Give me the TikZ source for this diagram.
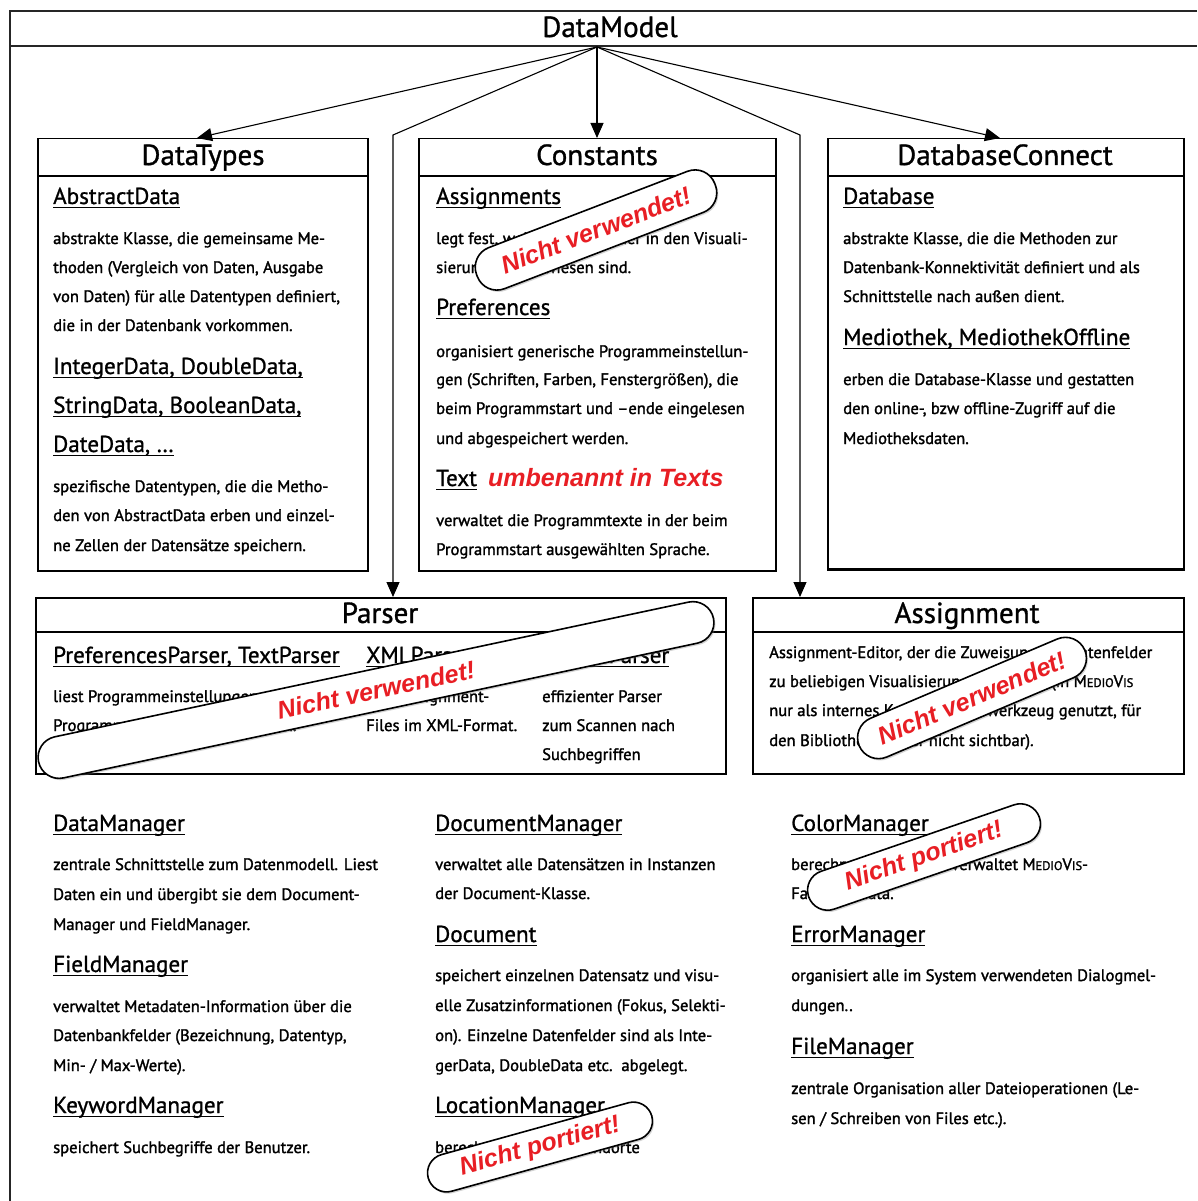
\documentclass[tikz,border=0pt]{standalone}
\usepackage{fontspec}
\setmainfont{PT Sans}
\newfontfamily\bodyfamily{PT Sans}[RawFeature={embolden=1.6}]
\newfontfamily\headfamily{PT Sans}[RawFeature={embolden=1.0}]
\newfontfamily\stampfamily{Liberation Sans}[BoldItalicFont={* Bold Italic}]
\usetikzlibrary{arrows.meta,shadows}

\definecolor{stampred}{RGB}{232,30,36}

% underlined heading: rule sits just below the baseline
\newcommand\ulhead[1]{\setbox0\hbox{#1}\rlap{\vrule height -2.6pt depth 3.9pt width \wd0}\box0}
% fake small capitals for the product name
\newcommand\smallcapsfake[1]{{\fontsize{12.4}{14}\selectfont #1}}
\newcommand\mediovis{M\smallcapsfake{EDIO}V\smallcapsfake{IS}}

\newcommand\bodyfont{\bodyfamily\fontsize{16.6}{19}\selectfont}
\newcommand\headfont{\headfamily\fontsize{23.1}{26}\selectfont}
\newcommand\titlefont{\headfamily\fontsize{29.1}{32}\selectfont}
\newcommand\redfont{\stampfamily\bfseries\itshape\fontsize{25}{28}\selectfont}

\begin{document}
\begin{tikzpicture}[x=1pt,y=-1pt,
  body/.style={anchor=base west, inner sep=0pt, font=\bodyfont},
  head/.style={anchor=base west, inner sep=0pt, font=\headfont},
  title/.style={anchor=base, inner sep=0pt, font=\titlefont},
  classbox/.style={draw, line width=1.5pt, anchor=north west, inner sep=0pt},
  band/.style={line width=1.5pt},
  frame/.style={line width=1.7pt, draw=black!85},
  link/.style={line width=1.1pt, -{Triangle[length=15pt,width=13pt]}},
  stamp/.style={draw, line width=1.6pt, fill=white, rounded corners=21pt,
    minimum height=42pt, inner sep=0pt, font=\redfont, text=stampred,
    drop shadow={shadow xshift=1.5pt, shadow yshift=-1.8pt, opacity=0.35}},
  redtext/.style={anchor=base west, inner sep=0pt, font=\redfont, text=stampred}]

\useasboundingbox[fill=white] (0,0) rectangle (1197,1201);

% ---------- outer DataModel frame ----------
\draw[frame] (1197,11) -- (10,11) -- (10,1201);
\draw[frame] (10,46) -- (1197,46);
\node[title] (datamodel) at (610,37) {DataModel};
\coordinate (dm) at (597,47);

% ---------- class boxes ----------
\node[classbox, minimum width=330pt, minimum height=432pt] (datatypes) at (37,138) {};
\node[classbox, minimum width=357pt, minimum height=432pt] (constants) at (418,138) {};
\node[classbox, minimum width=356pt, minimum height=430pt] (dbconnect) at (827,138) {};
\draw[line width=3pt] (dbconnect.south west) -- (dbconnect.south east);
\node[classbox, minimum width=690pt, minimum height=176pt] (parser) at (35,597) {};
\node[classbox, minimum width=431pt, minimum height=176pt] (assignment) at (752,597) {};

\draw[band] (37,176) -- (367,176);
\draw[band] (418,176) -- (775,176);
\draw[band] (827,176) -- (1183,176);
\draw[band] (35,632) -- (725,632);
\draw[band] (752,632) -- (1183,632);

\node[title] (t-datatypes) at (203,165) {DataTypes};
\node[title] (t-constants) at (597,165) {Constants};
\node[title] (t-dbconnect) at (1005,165) {DatabaseConnect};
\node[title] (t-parser) at (380,623) {Parser};
\node[title] (t-assignment) at (967,623) {Assignment};

% ---------- connectors from DataModel ----------
\coordinate (bendp) at (393,135);
\coordinate (benda) at (800,135);
\draw[link] (dm) -- (datatypes.north -| 197,0);
\draw[link] (dm) -- (constants.north -| dm);
\draw[link] (dm) -- (dbconnect.north -| 1000,0);
\draw[link] (dm) -- (bendp) -- (parser.north -| bendp);
\draw[link] (dm) -- (benda) -- (assignment.north -| benda);

% ---------- DataTypes ----------
\node[head] (h-abstract) at (53,204) {\ulhead{AbstractData}};
\node[body] (b-abstract1) at (53,244) {abstrakte Klasse, die gemeinsame Me-};
\node[body] (b-abstract2) at (53,273) {thoden (Vergleich von Daten, Ausgabe};
\node[body] (b-abstract3) at (53,302) {von Daten) für alle Datentypen definiert,};
\node[body] (b-abstract4) at (53,331) {die in der Datenbank vorkommen.};
\node[head] (h-types1) at (53,374) {\ulhead{IntegerData, DoubleData,}};
\node[head] (h-types2) at (53,413) {\ulhead{StringData, BooleanData,}};
\node[head] (h-types3) at (53,452) {\ulhead{DateData, \dots}};
\node[body] (b-types1) at (53,492) {spezifische Datentypen, die die Metho-};
\node[body] (b-types2) at (53,521) {den von AbstractData erben und einzel-};
\node[body] (b-types3) at (53,551) {ne Zellen der Datensätze speichern.};

% ---------- Constants ----------
\node[head] (h-assignments) at (436,204) {\ulhead{Assignments}};
\node[body] (b-assignments1) at (436,244) {legt fest, welche Datenfelder in den Visuali-};
\node[body] (b-assignments2) at (436,273) {sierungen zugewiesen sind.};
\node[head] (h-preferences) at (436,315) {\ulhead{Preferences}};
\node[body] (b-pref1) at (436,357) {organisiert generische Programmeinstellun-};
\node[body] (b-pref2) at (436,385) {gen (Schriften, Farben, Fenstergrößen), die};
\node[body] (b-pref3) at (436,414) {beim Programmstart und –ende eingelesen};
\node[body] (b-pref4) at (436,444) {und abgespeichert werden.};
\node[head] (h-text) at (436,486) {\ulhead{Text}};
\node[redtext] (r-text) at (488,486) {umbenannt in Texts};
\node[body] (b-text1) at (436,526) {verwaltet die Programmtexte in der beim};
\node[body] (b-text2) at (436,555) {Programmstart ausgewählten Sprache.};

% ---------- DatabaseConnect ----------
\node[head] (h-database) at (843,204) {\ulhead{Database}};
\node[body] (b-db1) at (843,244) {abstrakte Klasse, die die Methoden zur};
\node[body] (b-db2) at (843,273) {Datenbank-Konnektivität definiert und als};
\node[body] (b-db3) at (843,302) {Schnittstelle nach außen dient.};
\node[head] (h-mediothek) at (843,345) {\ulhead{Mediothek, MediothekOffline}};
\node[body] (b-med1) at (843,385) {erben die Database-Klasse und gestatten};
\node[body] (b-med2) at (843,414) {den online-, bzw offline-Zugriff auf die};
\node[body] (b-med3) at (843,444) {Mediotheksdaten.};

% ---------- Parser ----------
\node[head] (h-prefparser) at (53,663) {\ulhead{PreferencesParser, TextParser}};
\node[head] (h-xmlparser) at (366,663) {\ulhead{XMLParser}};
\node[head] (h-searchparser) at (542,663) {\ulhead{SearchParser}};
\node[body] (b-prefparser1) at (53,702) {liest Programmeinstellungen und};
\node[body] (b-prefparser2) at (53,731) {Programmtexte ein und speichern.};
\node[body] (b-xml1) at (366,702) {liest Assignment-};
\node[body] (b-xml2) at (366,731) {Files im XML-Format.};
\node[body] (b-search1) at (542,702) {effizienter Parser};
\node[body] (b-search2) at (542,731) {zum Scannen nach};
\node[body] (b-search3) at (542,760) {Suchbegriffen};

% ---------- Assignment ----------
\node[body] (b-asg1) at (769,658) {Assignment-Editor, der die Zuweisung der Datenfelder};
\node[body] (b-asg2) at (769,687) {zu beliebigen Visualisierungsattributen (in \mediovis};
\node[body] (b-asg3) at (769,716) {nur als internes Konfigurationswerkzeug genutzt, für};
\node[body] (b-asg4) at (769,746) {den Bibliotheksnutzer nicht sichtbar).};

% ---------- managers, left column ----------
\node[head] (h-datamanager) at (53,831) {\ulhead{DataManager}};
\node[body] (b-dm1) at (53,870) {zentrale Schnittstelle zum Datenmodell. Liest};
\node[body] (b-dm2) at (53,900) {Daten ein und übergibt sie dem Document-};
\node[body] (b-dm3) at (53,930) {Manager und FieldManager.};
\node[head] (h-fieldmanager) at (53,972) {\ulhead{FieldManager}};
\node[body] (b-fm1) at (53,1012) {verwaltet Metadaten-Information über die};
\node[body] (b-fm2) at (53,1041) {Datenbankfelder (Bezeichnung, Datentyp,};
\node[body] (b-fm3) at (53,1071) {Min- / Max-Werte).};
\node[head] (h-keyword) at (53,1113) {\ulhead{KeywordManager}};
\node[body] (b-kw1) at (53,1153) {speichert Suchbegriffe der Benutzer.};

% ---------- managers, middle column ----------
\node[head] (h-docmanager) at (435,831) {\ulhead{DocumentManager}};
\node[body] (b-docm1) at (435,870) {verwaltet alle Datensätzen in Instanzen};
\node[body] (b-docm2) at (435,899) {der Document-Klasse.};
\node[head] (h-document) at (435,942) {\ulhead{Document}};
\node[body] (b-doc1) at (435,981) {speichert einzelnen Datensatz und visu-};
\node[body] (b-doc2) at (435,1011) {elle Zusatzinformationen (Fokus, Selekti-};
\node[body] (b-doc3) at (435,1041) {on). Einzelne Datenfelder sind als Inte-};
\node[body] (b-doc4) at (435,1071) {gerData, DoubleData etc.\ \ abgelegt.};
\node[head] (h-location) at (435,1113) {\ulhead{LocationManager}};
\node[body] (b-loc1) at (435,1153) {berechnet die Buchstandorte};

% ---------- managers, right column ----------
\node[head] (h-color) at (791,831) {\ulhead{ColorManager}};
\node[body] (b-col1) at (791,870) {berechnet Farben und verwaltet \mediovis-};
\node[body] (b-col2) at (791,899) {Farbschemata.};
\node[head] (h-error) at (791,942) {\ulhead{ErrorManager}};
\node[body] (b-err1) at (791,981) {organisiert alle im System verwendeten Dialogmel-};
\node[body] (b-err2) at (791,1011) {dungen..};
\node[head] (h-file) at (791,1054) {\ulhead{FileManager}};
\node[body] (b-file1) at (791,1094) {zentrale Organisation aller Dateioperationen (Le-};
\node[body] (b-file2) at (791,1124) {sen / Schreiben von Files etc.).};

% ---------- status stamps ----------
\node[stamp, rotate=21, minimum width=255pt, minimum height=44pt] (s-constants) at (596,230) {Nicht verwendet!};
\node[stamp, rotate=12, minimum width=690pt] (s-parser) at (376,690) {Nicht verwendet!};
\node[stamp, rotate=23, minimum width=245pt] (s-assignment) at (972,698) {Nicht verwendet!};
\node[stamp, rotate=19, minimum width=244pt, minimum height=40pt, rounded corners=20pt] (s-color) at (924,857) {Nicht portiert!};
\node[stamp, rotate=15.5, minimum width=232pt, minimum height=38pt, rounded corners=19pt] (s-location) at (540,1147) {Nicht portiert!};

\end{tikzpicture}
\end{document}
